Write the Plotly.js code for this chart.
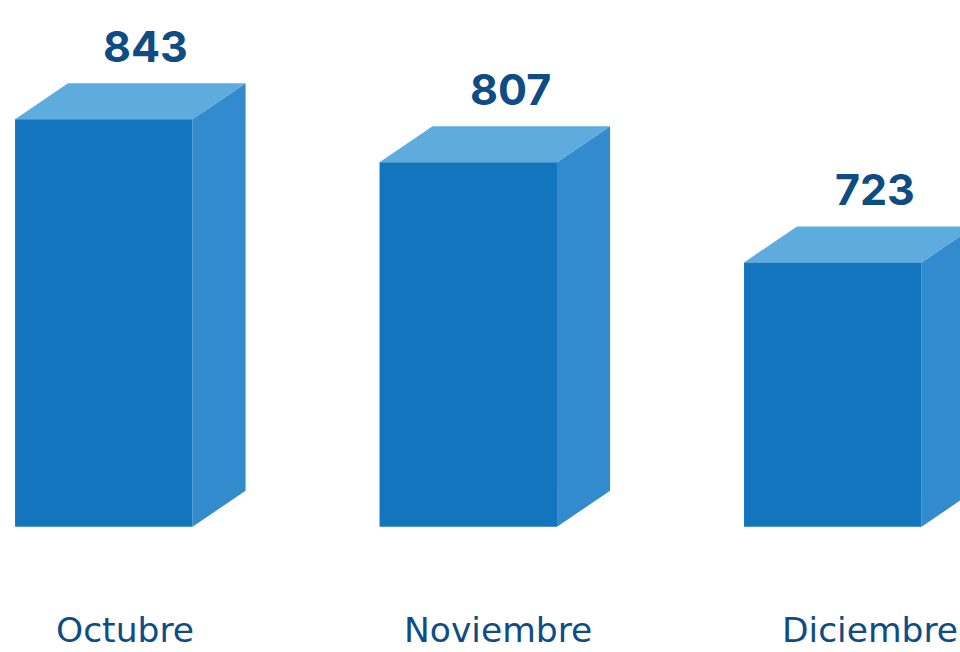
<!DOCTYPE html>
<html>
<head>
<meta charset="utf-8">
<script src="https://cdn.plot.ly/plotly-3.0.1.min.js"></script>
<style>html,body{margin:0;padding:0;background:#fff;}#chart{width:960px;height:652px;}</style>
</head>
<body>
<div id="chart"></div>
<script>
// Data
const categories = ["Octubre", "Noviembre", "Diciembre"];
const values = [843, 807, 723];

// Styling / geometry (layout parameters)
const FRONT = "#1275bd", TOP = "#5eabde", SIDE = "#328bcc", TEXT = "#0f4c84";
const FLOOR = 501.4;      // value at the floor of the bars
const W = 0.487;          // front face width (x units)
const DX = 0.1454;        // depth in x units
const DY = 30.2;          // depth in y units

const traces = [];
categories.forEach((c, i) => {
  const v = values[i];
  const l = i - W / 2, r = i + W / 2;
  traces.push({type: "scatter", mode: "lines", fill: "toself", fillcolor: SIDE,
    line: {width: 0}, hoverinfo: "skip", showlegend: false,
    x: [r, r, r + DX, r + DX, r], y: [FLOOR, v, v + DY, FLOOR + DY, FLOOR]});
  traces.push({type: "scatter", mode: "lines", fill: "toself", fillcolor: TOP,
    line: {width: 0}, hoverinfo: "skip", showlegend: false,
    x: [l, r, r + DX, l + DX, l], y: [v, v, v + DY, v + DY, v]});
  traces.push({type: "scatter", mode: "lines", fill: "toself", fillcolor: FRONT,
    line: {width: 0}, hoverinfo: "skip", showlegend: false,
    x: [l, r, r, l, l], y: [FLOOR, FLOOR, v, v, FLOOR]});
});

const annotations = [];
categories.forEach((c, i) => {
  annotations.push({x: i + 0.115, y: values[i] + DY + 31.4, xref: "x", yref: "y",
    text: String(values[i]), showarrow: false, xanchor: "center", yanchor: "middle",
    font: {family: "Inter, Roboto, sans-serif", size: 43, color: TEXT, weight: 700}});
  annotations.push({x: i, y: (652 - 630) / 652, xref: "x2", yref: "paper",
    text: c, showarrow: false, xanchor: "center", yanchor: "middle",
    font: {family: "'DejaVu Sans', sans-serif", size: 34.5, color: TEXT}});
});

const layout = {
  width: 960, height: 652,
  margin: {l: 0, r: 0, t: 0, b: 0},
  paper_bgcolor: "#fff", plot_bgcolor: "#fff",
  showlegend: false,
  xaxis: {range: [-0.2848, 2.349], visible: false, fixedrange: true},
  xaxis2: {range: [-0.3356, 2.2416], visible: false, overlaying: "x", fixedrange: true},
  yaxis: {range: [396.4, 943.0], visible: false, fixedrange: true},
  annotations: annotations
};

Plotly.newPlot("chart", traces, layout, {displayModeBar: false, staticPlot: true});
</script>
</body>
</html>
